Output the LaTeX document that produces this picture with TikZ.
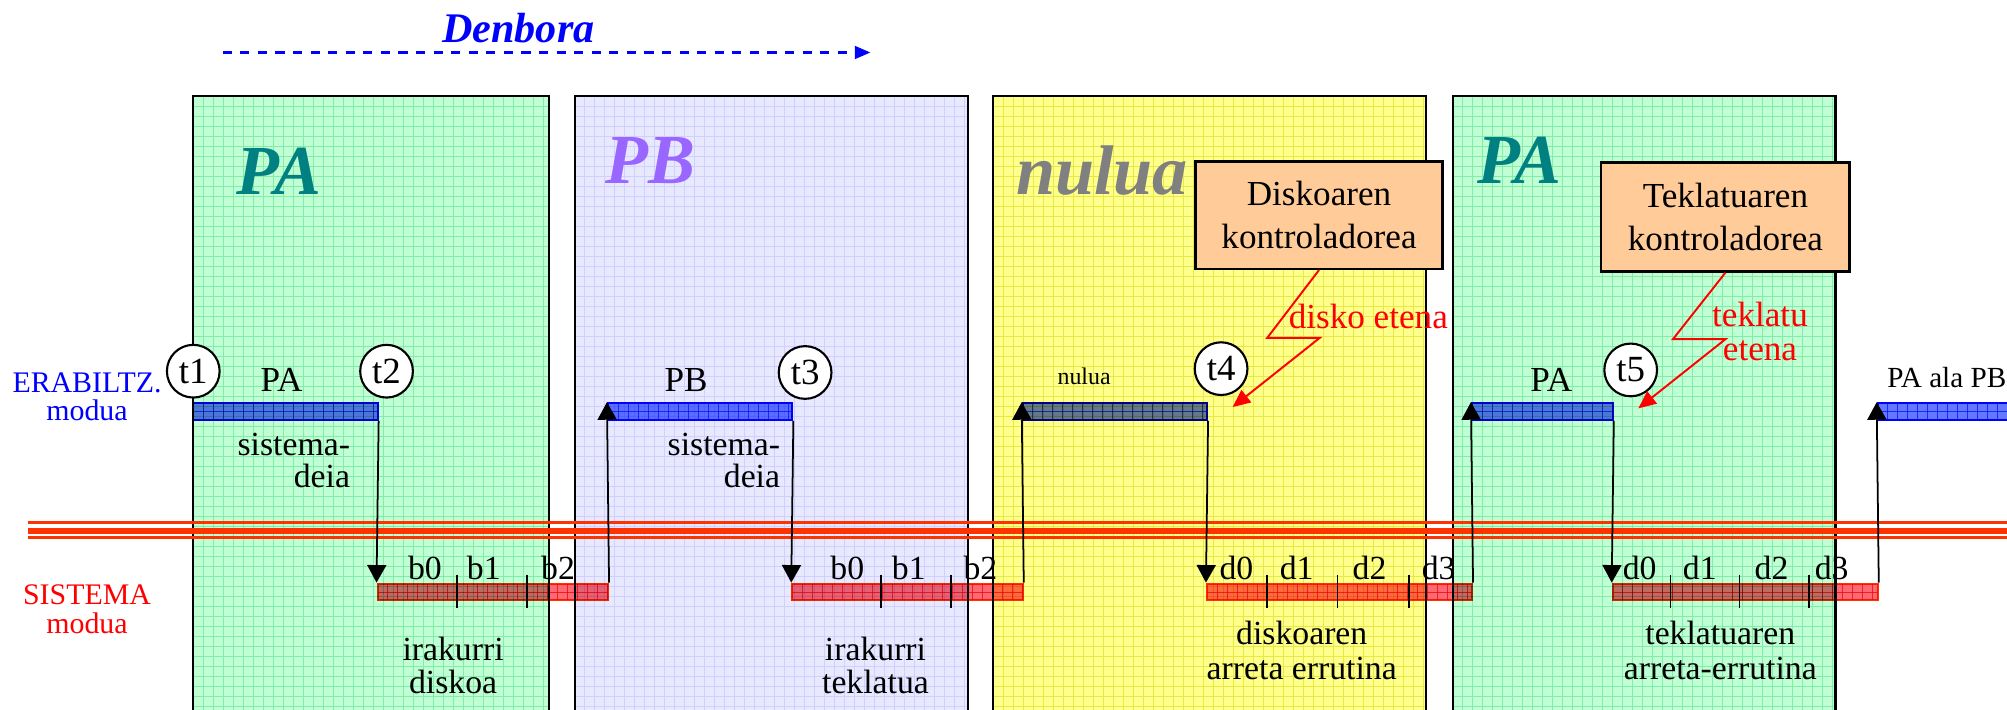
\documentclass[tikz,border=0pt]{standalone}
\usepackage{fontspec}
\setmainfont{Liberation Serif}
\usetikzlibrary{arrows.meta,fit}
\definecolor{gfill}{RGB}{192,255,212}
\definecolor{gline}{RGB}{128,238,168}
\definecolor{lfill}{RGB}{232,232,255}
\definecolor{lline}{RGB}{208,208,255}
\definecolor{yfill}{RGB}{255,255,140}
\definecolor{yline}{RGB}{232,232,70}
\definecolor{tealc}{RGB}{0,128,128}
\definecolor{purpc}{RGB}{153,102,255}
\definecolor{grayc}{RGB}{128,128,128}
\definecolor{peach}{RGB}{255,204,153}
\definecolor{orred}{RGB}{255,51,0}
\definecolor{bbar}{RGB}{100,120,255}
\definecolor{bbarl}{RGB}{70,90,255}
\definecolor{rbar}{RGB}{255,105,115}
\definecolor{rbarl}{RGB}{240,80,90}
\newcommand\gridbox[6]{%
  \begin{scope}
    \clip (#1,#2) rectangle (#3,#4);
    \fill[#5] (#1,#2) rectangle (#3,#4);
    \foreach \k in {1,...,64}{%
      \draw[#6,line width=0.25pt] (#1+\k*7.8125,#2) -- (#1+\k*7.8125,#4);
      \draw[#6,line width=0.25pt] (#1,#2+\k*7.8125) -- (#3,#2+\k*7.8125);}
  \end{scope}
  \draw[line width=0.6pt] (#1,#2) rectangle (#3,#4);}
\tikzset{
  bluebar/.style={draw=blue, line width=0.6pt, fill=bbar, inner sep=0pt,
    path picture={\foreach \k in {1,...,40}{\draw[bbarl,line width=0.25pt] ([xshift=\k*2.845pt]path picture bounding box.north west) -- ([xshift=\k*2.845pt]path picture bounding box.south west);}
      \draw[bbarl,line width=0.25pt] (path picture bounding box.west) -- (path picture bounding box.east);}},
  redbar/.style={draw=orred, line width=0.6pt, fill=rbar, inner sep=0pt,
    path picture={\foreach \k in {1,...,80}{\draw[rbarl,line width=0.25pt] ([xshift=\k*2.845pt]path picture bounding box.north west) -- ([xshift=\k*2.845pt]path picture bounding box.south west);}
      \draw[rbarl,line width=0.25pt] (path picture bounding box.west) -- (path picture bounding box.east);}},
  arr/.style={line width=0.5pt, -{Triangle[length=5pt,width=5.4pt]}},
  tickm/.style={line width=0.5pt},
  big/.style={font=\fontsize{20}{24}\selectfont\bfseries\itshape, inner sep=0pt, anchor=base},
  lbl/.style={font=\fontsize{10}{12}\selectfont, inner sep=0pt},
  sm/.style={font=\fontsize{9.6}{9.2}\selectfont, inner sep=0pt, align=center},
  tc/.style={circle, draw, line width=0.6pt, fill=white, minimum size=15pt, inner sep=0pt, font=\fontsize{10.5}{12}\selectfont},
  ctrl/.style={draw, line width=0.7pt, fill=peach, align=center, inner sep=0pt, font=\fontsize{10}{12}\selectfont},
  bolt/.style={red, line width=0.55pt, -{Triangle[length=5pt,width=4.4pt]}},
  redline/.style={orred},
}
\begin{document}
\begin{tikzpicture}[x=0.0128cm, y=-0.0128cm]
\useasboundingbox (0,0) rectangle (1568,554);
% title
\node[font=\fontsize{12}{14}\selectfont\bfseries\itshape, text=blue, inner sep=0pt] (den) at (405,22) {Denbora};
\coordinate (ds) at (174,41);
\coordinate (de) at (680,41);
\draw[blue, line width=0.7pt, dash pattern=on 2.6pt off 2.4pt, -{Triangle[length=4.4pt,width=3.6pt]}] (ds) -- (de);
% process boxes
\gridbox{151}{75}{429}{560}{gfill}{gline}
\gridbox{449}{75}{756}{560}{lfill}{lline}
\gridbox{776}{75}{1114}{560}{yfill}{yline}
\gridbox{1135}{75}{1434}{560}{gfill}{gline}
\node[big, text=tealc] (bpa1) at (218,152) {PA};
\node[big, text=purpc] (bpb) at (508,143) {PB};
\node[big, text=grayc] (bnul) at (861,152) {nulua};
\node[big, text=tealc] (bpa2) at (1187,143) {PA};
% mode labels
\node[font=\fontsize{8.5}{8}\selectfont, text=blue, align=center, inner sep=0pt] (erab) at (68,310) {ERABILTZ.\\modua};
\node[font=\fontsize{8.5}{8}\selectfont, text=red, align=center, inner sep=0pt] (sist) at (68,476) {SISTEMA\\modua};
% separator lines
\draw[redline, line width=1pt] (22,408.3) -- (1580,408.3);
\draw[redline, line width=1.6pt] (22,414.6) -- (1580,414.6);
\draw[redline, line width=1pt] (22,419.8) -- (1580,419.8);
% bars
\begin{scope}[blend mode=multiply]
\node[bluebar, fit={(151,315)(295,328)}] (u1) {};
\node[bluebar, fit={(475,315)(619,328)}] (u2) {};
\node[bluebar, fit={(799,315)(943,328)}] (u3) {};
\node[bluebar, fit={(1150,315)(1260,328)}] (u4) {};
\node[bluebar, fit={(1467,315)(1580,328)}] (u5) {};
\node[redbar, fit={(295,456)(475,469)}] (s1) {};
\node[redbar, fit={(619,456)(799,469)}] (s2) {};
\node[redbar, fit={(943,456)(1150,469)}] (s3) {};
\node[redbar, fit={(1260,456)(1467,469)}] (s4) {};
\end{scope}
% ticks
\foreach \tx in {357,412,688,743,990,1045,1101,1305,1359,1413}
  \draw[tickm] (\tx,449) -- (\tx,475);
% arrows
\draw[arr] (u1.south east) -- (s1.north west);
\draw[arr] (s1.north east) -- (u2.north west);
\draw[arr] (u2.south east) -- (s2.north west);
\draw[arr] (s2.north east) -- (u3.north west);
\draw[arr] (u3.south east) -- (s3.north west);
\draw[arr] (s3.north east) -- (u4.north west);
\draw[arr] (u4.south east) -- (s4.north west);
\draw[arr] (s4.north east) -- (u5.north west);
% labels above bars
\node[lbl] (lpa1) at (220,297) {PA};
\node[lbl] (lpb) at (536,297) {PB};
\node[font=\fontsize{6.8}{8}\selectfont, inner sep=0pt] (lnul) at (847,294) {nulua};
\node[lbl] (lpa2) at (1212,297) {PA};
\node[font=\fontsize{8.3}{10}\selectfont, inner sep=0pt, anchor=west] (lpab) at (1474,295) {PA ala PB};
\node[sm, align=right, anchor=east] (sd1) at (274,360) {sistema-\\deia};
\node[sm, align=right, anchor=east] (sd2) at (610,360) {sistema-\\deia};
% b / d labels
\foreach \nm/\bx/\tt in {a0/332/b0,a1/378/b1,a2/436/b2,c0/662/b0,c1/710/b1,c2/766/b2,
  e0/966/d0,e1/1013/d1,e2/1070/d2,e3/1124/d3,f0/1281/d0,f1/1328/d1,f2/1384/d2,f3/1431/d3}
  \node[sm] (\nm) at (\bx,444) {\tt};
\node[sm] (rd) at (354,520) {irakurri\\diskoa};
\node[sm] (rt) at (684,520) {irakurri\\teklatua};
\node[sm, font=\fontsize{9.6}{9.8}\selectfont] (da) at (1017,508) {diskoaren\\arreta errutina};
\node[sm, font=\fontsize{9.6}{9.8}\selectfont] (ta) at (1344,508) {teklatuaren\\arreta-errutina};
% time circles
\node[tc] (t1) at (151,290) {t1};
\node[tc] (t2) at (302,290) {t2};
\node[tc] (t3) at (629,291) {t3};
\node[tc] (t4) at (954,288) {t4};
\node[tc] (t5) at (1274,289) {t5};
% controllers
\node[ctrl, minimum width=70.3pt, minimum height=30.6pt] (dk) at (1030.5,168) {Diskoaren\\kontroladorea};
\node[ctrl, minimum width=70.7pt, minimum height=31pt] (tk) at (1348,169.5) {Teklatuaren\\kontroladorea};
\coordinate (dz1) at (990,264);
\coordinate (dz2) at (1031,264);
\coordinate (dtip) at (963,318);
\draw[bolt] (dk.south) -- (dz1) -- (dz2) -- (dtip);
\coordinate (tz1) at (1307,265);
\coordinate (tz2) at (1348,265);
\coordinate (ttip) at (1280,319);
\draw[bolt] (tk.south) -- (tz1) -- (tz2) -- (ttip);
\node[lbl, text=red] (det) at (1069,247) {disko etena};
\node[lbl, text=red, align=center, font=\fontsize{10}{9.5}\selectfont] (tet) at (1375,259) {teklatu\\etena};
\end{tikzpicture}
\end{document}
